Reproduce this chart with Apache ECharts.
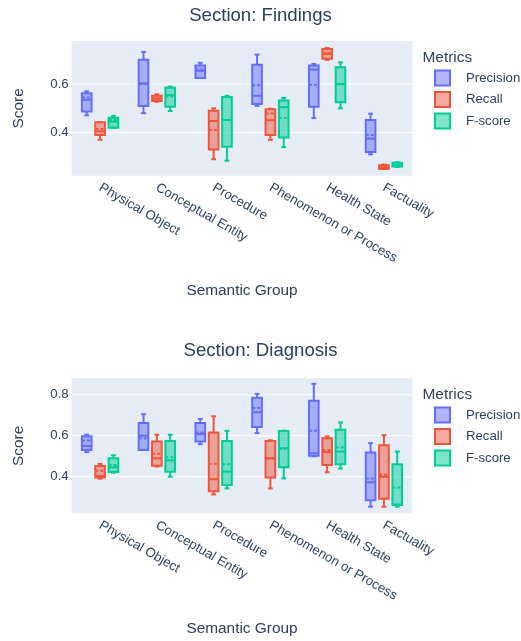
<!DOCTYPE html>
<html><head><meta charset="utf-8">
<script src="https://cdn.jsdelivr.net/npm/echarts@6/dist/echarts.min.js"></script>
<style>html,body{margin:0;padding:0;background:#fff}#c{width:521px;height:641px}</style>
</head><body><div id="c"></div>
<script>
const categories = ['Physical Object','Conceptual Entity','Procedure','Phenomenon or Process','Health State','Factuality'];
const metrics = ['Precision','Recall','F-score'];
const yTicksFindings = [0.4, 0.6];
const yTicksDiagnosis = [0.4, 0.6, 0.8];
// each entry: [min, q1, median, q3, max, mean]
const findingsPrecision = [[0.471,0.487,0.535,0.562,0.570,0.545],[0.480,0.510,0.603,0.701,0.733,0.600],[0.625,0.625,0.655,0.677,0.688,0.660],[0.510,0.518,0.552,0.680,0.722,0.595],[0.460,0.507,0.660,0.677,0.683,0.597],[0.310,0.320,0.375,0.452,0.478,0.390]];
const findingsRecall    = [[0.370,0.390,0.405,0.443,0.443,0.415],[0.527,0.530,0.540,0.552,0.558,0.542],[0.290,0.330,0.448,0.490,0.500,0.411],[0.370,0.390,0.451,0.496,0.499,0.479],[0.700,0.705,0.725,0.745,0.749,0.730],[0.250,0.250,0.255,0.265,0.268,0.258]];
const findingsFscore    = [[0.420,0.420,0.445,0.461,0.469,0.452],[0.489,0.507,0.555,0.585,0.590,0.550],[0.284,0.342,0.452,0.547,0.552,0.452],[0.340,0.380,0.505,0.532,0.543,0.460],[0.500,0.525,0.600,0.670,0.690,0.600],[0.258,0.260,0.265,0.275,0.278,0.267]];
const diagnosisPrecision = [[0.520,0.531,0.550,0.597,0.605,0.577],[0.531,0.531,0.600,0.662,0.705,0.588],[0.559,0.572,0.608,0.662,0.682,0.616],[0.613,0.643,0.715,0.785,0.804,0.735],[0.500,0.502,0.515,0.771,0.853,0.624],[0.254,0.286,0.373,0.518,0.564,0.392]];
const diagnosisRecall    = [[0.391,0.396,0.404,0.453,0.463,0.430],[0.450,0.454,0.490,0.572,0.605,0.512],[0.314,0.330,0.388,0.616,0.695,0.463],[0.343,0.396,0.490,0.575,0.578,0.490],[0.422,0.458,0.520,0.588,0.597,0.531],[0.254,0.293,0.400,0.554,0.603,0.410]];
const diagnosisFscore    = [[0.420,0.423,0.446,0.490,0.505,0.458],[0.400,0.425,0.480,0.575,0.605,0.495],[0.343,0.360,0.425,0.575,0.624,0.461],[0.392,0.446,0.540,0.623,0.625,0.535],[0.440,0.461,0.523,0.629,0.665,0.543],[0.254,0.262,0.265,0.461,0.523,0.348]];

const colors = ['#636efa','#EF553B','#00cc96'];
const fills = ['rgba(99,110,250,0.5)','rgba(239,85,59,0.5)','rgba(0,204,150,0.5)'];
const offsets = [-0.235, 0, 0.235];
const FONT = '"Liberation Sans", Arial, Helvetica, sans-serif';
const TXT = '#2a3f5f';

function boxRender(k){
  return function(params, api){
    const cat = api.value(0);
    const band = api.size([1,0])[0];
    const cx = api.coord([cat, 0.5])[0] + offsets[k]*band;
    const w = band*0.17, cap = w/2;
    const Y = v => api.coord([cat, v])[1];
    const mn=Y(api.value(1)), q1=Y(api.value(2)), md=Y(api.value(3)), q3=Y(api.value(4)), mx=Y(api.value(5)), me=Y(api.value(6));
    const ls = {stroke: colors[k], lineWidth: 2};
    const line = (x1,y1,x2,y2,extra) => ({type:'line', shape:{x1,y1,x2,y2}, style:Object.assign({}, ls, extra||{})});
    return {type:'group', children:[
      line(cx, q1, cx, mn), line(cx-cap/2, mn, cx+cap/2, mn),
      line(cx, q3, cx, mx), line(cx-cap/2, mx, cx+cap/2, mx),
      {type:'rect', shape:{x:cx-w/2, y:q3, width:w, height:q1-q3}, style:{fill:fills[k], stroke:colors[k], lineWidth:2}},
      line(cx-w/2, md, cx+w/2, md),
      line(cx-w/2, me, cx+w/2, me, {lineDash:[3,2]})
    ]};
  };
}
function gridRender(params, api){
  const cs = params.coordSys;
  const y = api.coord([0, api.value(1)])[1];
  return {type:'line', shape:{x1:cs.x, y1:y, x2:cs.x+cs.width, y2:y}, style:{stroke:'#ffffff', lineWidth:1}};
}
function toData(arr){ return arr.map((r,i)=>[i].concat(r)); }

const grids = [
  {left:71.7, top:41, width:340.6, height:134.7, show:true, backgroundColor:'#E5ECF6', borderWidth:0},
  {left:71.7, top:378.3, width:340.6, height:135, show:true, backgroundColor:'#E5ECF6', borderWidth:0}
];
function xAx(gi){
  return {type:'category', gridIndex:gi, data:categories, boundaryGap:true,
    axisLine:{show:false}, axisTick:{show:false}, splitLine:{show:false},
    axisLabel:{rotate:-30, margin:11, color:TXT, fontSize:13.2, fontFamily:FONT, interval:0},
    name:'Semantic Group', nameLocation:'middle', nameGap:107.5,
    nameTextStyle:{color:TXT, fontSize:15.4, fontFamily:FONT}};
}
function yAx(gi, mn, mx, ticks){
  return {type:'value', gridIndex:gi, min:mn, max:mx,
    axisLine:{show:false}, axisTick:{show:false, customValues:ticks}, splitLine:{show:false},
    axisLabel:{customValues:ticks, formatter:v=>v.toFixed(1), color:TXT, fontSize:13.2, fontFamily:FONT, margin:3},
    name:'Score', nameLocation:'middle', nameGap:45,
    nameTextStyle:{color:TXT, fontSize:15.4, fontFamily:FONT}};
}
const sets = [[findingsPrecision, findingsRecall, findingsFscore],[diagnosisPrecision, diagnosisRecall, diagnosisFscore]];
const series = [];
[yTicksFindings, yTicksDiagnosis].forEach((t,gi)=>{
  series.push({type:'custom', xAxisIndex:gi, yAxisIndex:gi, z:1, silent:true, renderItem:gridRender,
    data:t.map(v=>[0,v]), encode:{x:0,y:1}});
});
sets.forEach((s,gi)=>{
  s.forEach((arr,k)=>{
    series.push({type:'custom', name:metrics[k], xAxisIndex:gi, yAxisIndex:gi, z:3,
      itemStyle:{color:colors[k]}, renderItem:boxRender(k), data:toData(arr),
      encode:{x:0, y:[1,2,3,4,5,6]}});
  });
});
function legendData(){ return metrics.map((m,k)=>({name:m, icon:'rect', itemStyle:{color:fills[k], borderColor:colors[k], borderWidth:2}})); }
const legendCommon = {orient:'vertical', left:434, padding:0, itemWidth:15, itemHeight:15, itemGap:4.5,
  textStyle:{color:TXT, fontSize:13.2, fontFamily:FONT, lineHeight:15, padding:[0,0,0,11]}, selectedMode:false};

const titleStyle = size => ({color:TXT, fontSize:size, fontWeight:'normal', fontFamily:FONT});
const option = {
  animation:false,
  title:[
    {text:'Section: Findings', left:'center', top:6, padding:0, textStyle:titleStyle(18.6)},
    {text:'Section: Diagnosis', left:'center', top:341.5, padding:0, textStyle:titleStyle(18.6)},
    {text:'Metrics', left:422.5, top:50, padding:0, textStyle:titleStyle(15.4)},
    {text:'Metrics', left:422.5, top:387.5, padding:0, textStyle:titleStyle(15.4)}
  ],
  legend:[
    Object.assign({}, legendCommon, {top:69.5, data:legendData()}),
    Object.assign({}, legendCommon, {top:406.5, data:legendData()})
  ],
  grid:grids,
  xAxis:[xAx(0), xAx(1)],
  yAxis:[yAx(0, 0.222, 0.778, yTicksFindings), yAx(1, 0.222, 0.88, yTicksDiagnosis)],
  series:series
};
const chart = echarts.init(document.getElementById('c'), null, {renderer:'canvas'});
chart.setOption(option);
</script></body></html>
